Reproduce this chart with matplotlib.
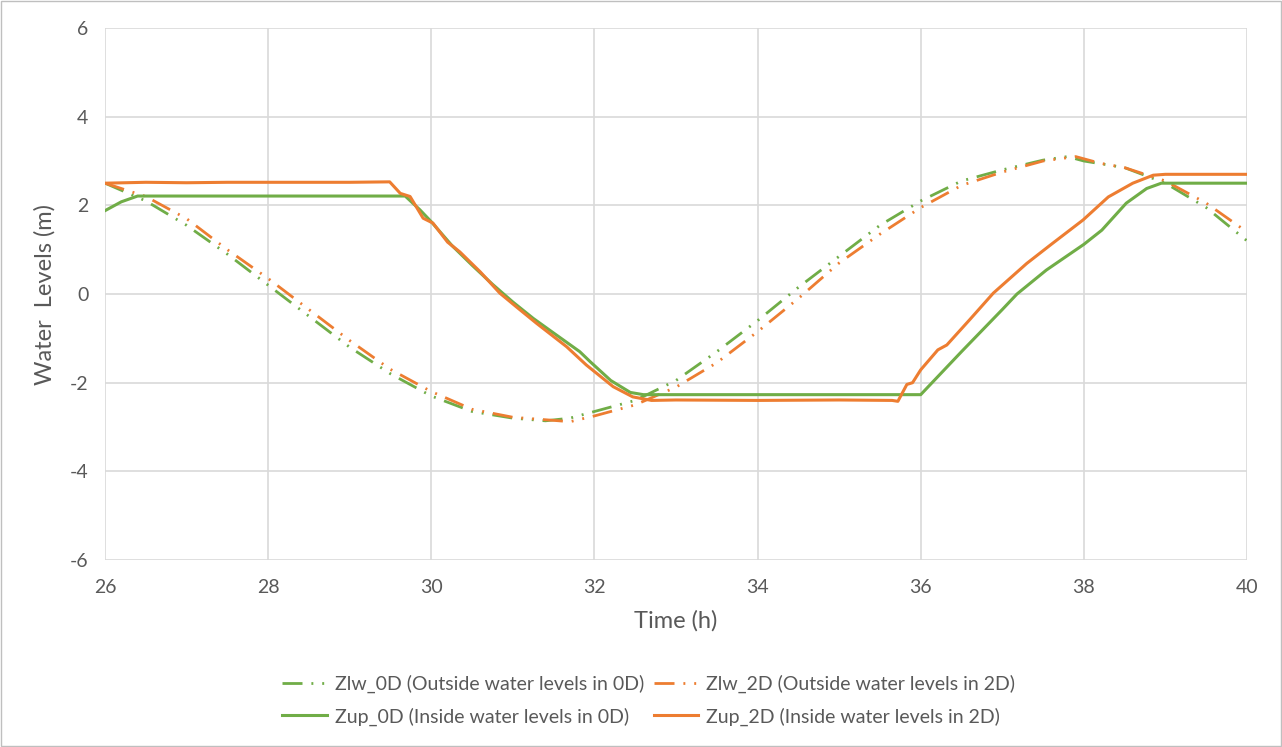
import matplotlib.pyplot as plt
from matplotlib.patches import Rectangle

# values
t_zlw_0d = [26.0, 26.5, 27.0, 27.5, 28.0, 28.5, 29.0, 29.5, 30.0, 30.5, 31.0, 31.4, 31.7,
            32.0, 32.5, 33.0, 33.5, 34.0, 34.5, 35.0, 35.5, 36.0, 36.5, 37.0, 37.5, 37.8,
            38.0, 38.5, 39.0, 39.5, 40.0]
zlw_0d = [2.5, 2.1, 1.55, 0.9, 0.2, -0.5, -1.2, -1.8, -2.3, -2.65, -2.8, -2.86, -2.8,
          -2.65, -2.4, -1.95, -1.3, -0.6, 0.15, 0.85, 1.55, 2.1, 2.55, 2.8, 3.02, 3.1,
          3.0, 2.85, 2.5, 1.95, 1.2]

t_zlw_2d = [26.0, 26.5, 27.0, 27.5, 28.0, 28.5, 29.0, 29.5, 30.0, 30.5, 31.0, 31.5, 31.7,
            32.0, 32.5, 33.0, 33.5, 34.0, 34.5, 35.0, 35.5, 36.0, 36.5, 37.0, 37.5, 37.9,
            38.2, 38.5, 39.0, 39.5, 40.0]
zlw_2d = [2.5, 2.2, 1.7, 1.0, 0.35, -0.35, -1.05, -1.7, -2.2, -2.6, -2.78, -2.85, -2.88,
          -2.75, -2.5, -2.1, -1.55, -0.85, -0.1, 0.7, 1.35, 1.95, 2.45, 2.75, 3.0, 3.1,
          2.95, 2.85, 2.55, 2.05, 1.4]

t_zup_0d = [26.0, 26.2, 26.4, 29.68, 29.86, 30.0, 30.25, 30.5, 30.75, 31.0, 31.25, 31.5,
            31.82, 31.95, 32.2, 32.44, 32.6, 36.0, 36.5, 37.0, 37.18, 37.54, 38.0, 38.22,
            38.52, 38.77, 38.95, 40.0]
zup_0d = [1.88, 2.08, 2.21, 2.21, 1.9, 1.63, 1.1, 0.65, 0.22, -0.18, -0.55, -0.88,
          -1.3, -1.53, -1.95, -2.22, -2.27, -2.27, -1.3, -0.35, 0.0, 0.54, 1.12, 1.44,
          2.05, 2.38, 2.5, 2.5]

t_zup_2d = [26.0, 26.5, 27.0, 27.5, 28.0, 28.5, 29.0, 29.49, 29.62, 29.74, 29.9, 30.02,
            30.2, 30.35, 30.6, 30.84, 31.05, 31.29, 31.66, 31.9, 32.23, 32.47, 32.7, 33.0,
            34.0, 35.0, 35.65, 35.72, 35.83, 35.9, 36.0, 36.21, 36.32, 36.6, 36.89, 37.3,
            37.6, 37.99, 38.3, 38.6, 38.85, 39.0, 40.0]
zup_2d = [2.5, 2.52, 2.51, 2.52, 2.52, 2.52, 2.52, 2.53, 2.27, 2.2, 1.71, 1.6,
          1.17, 0.95, 0.5, 0.02, -0.3, -0.66, -1.19, -1.6, -2.09, -2.32, -2.4, -2.39,
          -2.4, -2.39, -2.4, -2.42, -2.04, -2.0, -1.71, -1.26, -1.15, -0.58, 0.02, 0.69,
          1.12, 1.67, 2.19, 2.5, 2.68, 2.7, 2.7]

x_ticks = [26, 28, 30, 32, 34, 36, 38, 40]
y_ticks = [-6, -4, -2, 0, 2, 4, 6]

green = '#70AD47'
orange = '#ED7D31'
grid_c = '#D9D9D9'
text_c = '#595959'
ldash = (0, (7.2, 3.2, 0.7, 3.2, 0.7, 3.2))

plt.rcParams['font.family'] = ['Lato', 'DejaVu Sans']
plt.rcParams['axes.unicode_minus'] = False

fig = plt.figure(figsize=(12.82, 7.47), dpi=100)
fig.patches.append(Rectangle((0.001, 0.001), 0.998, 0.998, transform=fig.transFigure,
                             fill=False, edgecolor='#BFBFBF', linewidth=1))
ax = fig.add_axes([0.0819, 0.2503, 0.8908, 0.7122])

l1, = ax.plot(t_zlw_0d, zlw_0d, color=green, lw=2, linestyle=ldash,
              label='Zlw_0D (Outside water levels in 0D)')
l2, = ax.plot(t_zlw_2d, zlw_2d, color=orange, lw=2, linestyle=ldash,
              label='Zlw_2D (Outside water levels in 2D)')
l3, = ax.plot(t_zup_0d, zup_0d, color=green, lw=2.2,
              label='Zup_0D (Inside water levels in 0D)')
l4, = ax.plot(t_zup_2d, zup_2d, color=orange, lw=2.2,
              label='Zup_2D (Inside water levels in 2D)')

ax.set_xlim(26, 40)
ax.set_ylim(-6, 6)
ax.set_xticks(x_ticks)
ax.set_yticks(y_ticks)
ax.grid(True, color=grid_c, linewidth=1.2)
ax.set_axisbelow(True)
for s in ax.spines.values():
    s.set_visible(False)
ax.tick_params(length=0, labelsize=14, colors=text_c)
ax.tick_params(axis='x', pad=14)
ax.tick_params(axis='y', pad=12)
ax.set_xlabel('Time (h)', fontsize=17, color=text_c, labelpad=10)
ax.set_ylabel('Water  Levels (m)', fontsize=17, color=text_c, labelpad=10)

# legend fills column-first, so order handles to get the Zlw row on top
handles = [l1, l3, l2, l4]
fig.legend(handles, [h.get_label() for h in handles], loc='center',
           bbox_to_anchor=(0.506, 0.063), ncol=2, frameon=False,
           fontsize=14, labelcolor=text_c, handlelength=2.3, handletextpad=0.4,
           columnspacing=0.5, labelspacing=0.75)

plt.savefig('out.png', dpi=100)
